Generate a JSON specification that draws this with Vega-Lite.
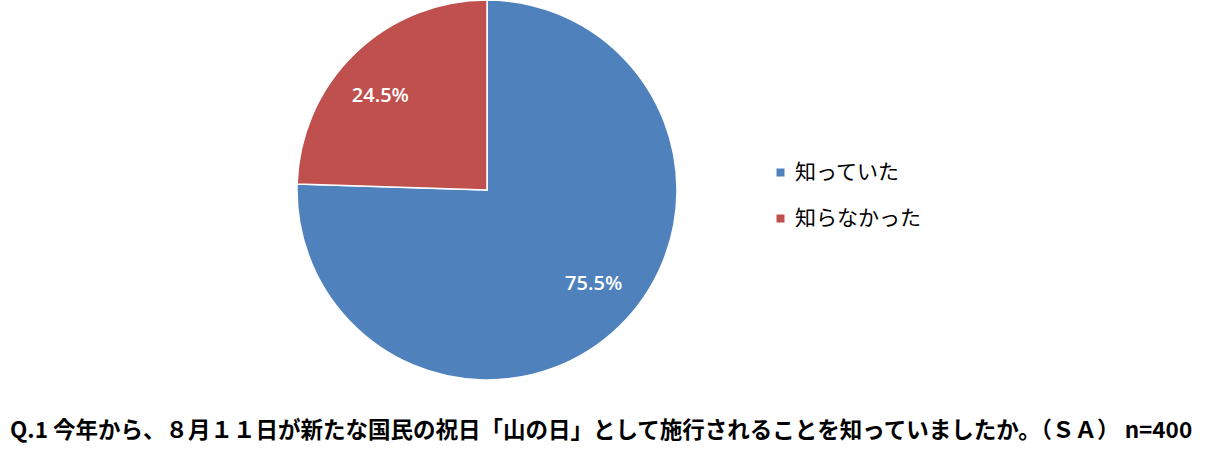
{
  "$schema": "https://vega.github.io/schema/vega-lite/v6.json",
  "width": 974,
  "height": 380,
  "padding": {"left": 0, "top": 0, "right": 236, "bottom": 72},
  "autosize": "none",
  "background": "white",
  "config": {"view": {"stroke": null}},
  "title": {
    "text": "Q.1 今年から、８月１１日が新たな国民の祝日「山の日」として施行されることを知っていましたか。（ＳＡ） n=400",
    "orient": "bottom",
    "anchor": "start",
    "dx": 10,
    "offset": 37,
    "font": "Noto Sans CJK JP",
    "fontSize": 22.5,
    "fontWeight": "bold",
    "color": "#000000"
  },
  "data": {
    "values": [
      {"answer": "知っていた", "pct": 75.5, "label": "75.5%", "rank": 1},
      {"answer": "知らなかった", "pct": 24.5, "label": "24.5%", "rank": 2}
    ]
  },
  "encoding": {
    "theta": {"field": "pct", "type": "quantitative", "stack": true},
    "order": {"field": "rank", "type": "quantitative"},
    "color": {
      "field": "answer",
      "type": "nominal",
      "scale": {"domain": ["知っていた", "知らなかった"], "range": ["#4F81BD", "#C0504D"]},
      "legend": {
        "title": null,
        "orient": "none",
        "legendX": 770,
        "legendY": 162,
        "symbolType": "square",
        "symbolSize": 64,
        "symbolStrokeWidth": 0,
        "labelFont": "Noto Sans CJK JP",
        "labelFontSize": 21,
        "labelColor": "#000000",
        "labelOffset": 4,
        "rowPadding": 24
      }
    }
  },
  "layer": [
    {
      "mark": {"type": "arc", "outerRadius": 190, "stroke": "#ffffff", "strokeWidth": 1.5}
    },
    {
      "mark": {"type": "text", "radius": 142, "thetaOffset": -0.08, "font": "Open Sans", "fontSize": 20, "fontWeight": 600, "fill": "#ffffff"},
      "encoding": {"text": {"field": "label"}}
    }
  ]
}
